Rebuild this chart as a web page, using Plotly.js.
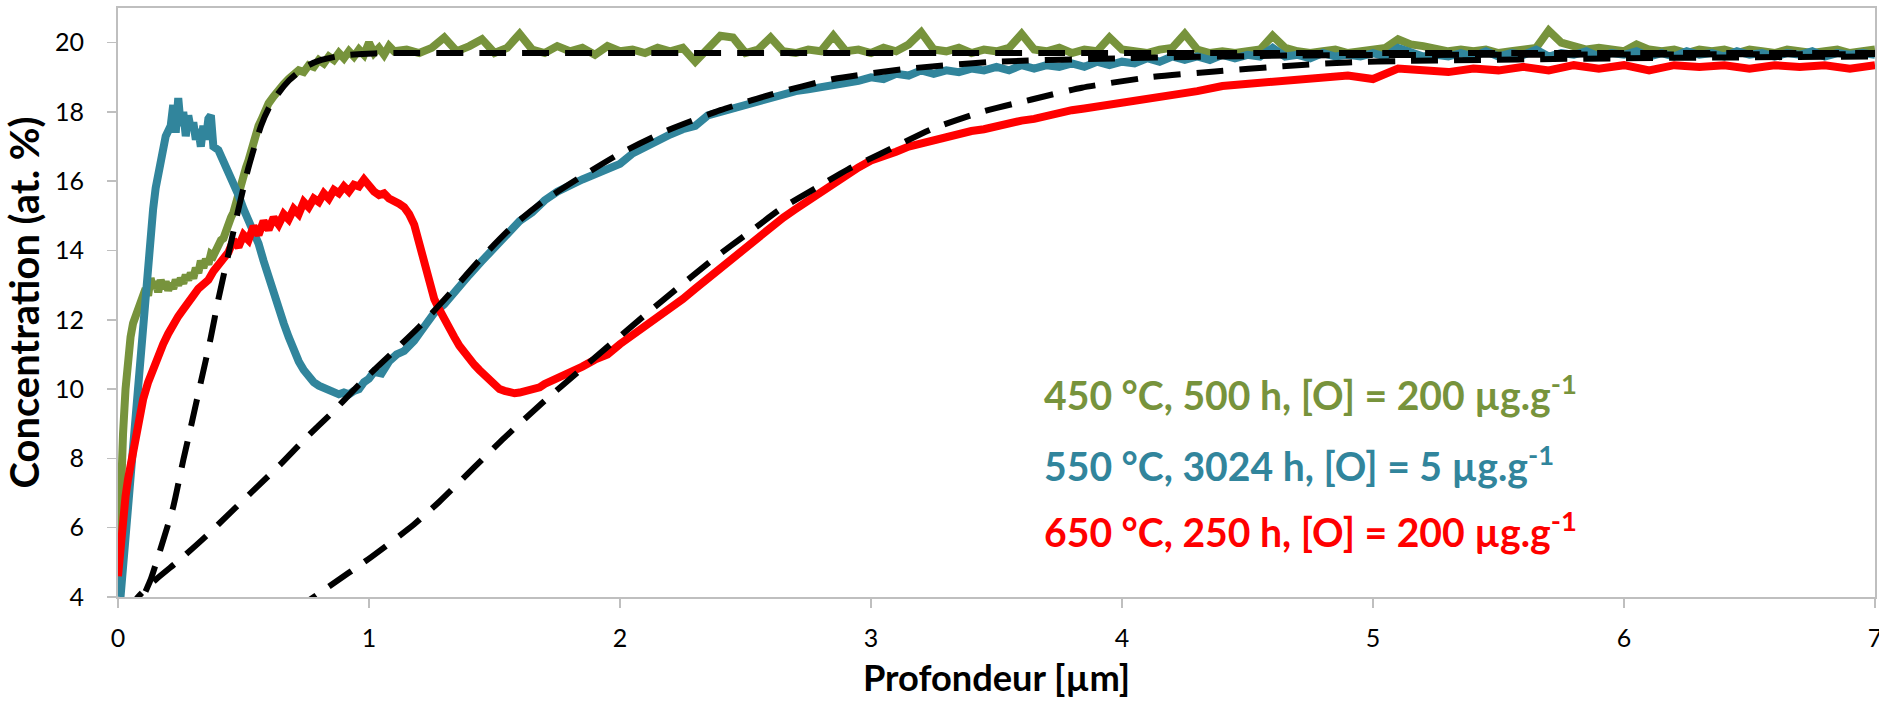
<!DOCTYPE html>
<html>
<head>
<meta charset="utf-8">
<script src="https://cdn.plot.ly/plotly-3.0.1.min.js"></script>
<style>
  html, body { margin: 0; padding: 0; background: #fff; }
  #chart { width: 1879px; height: 705px; }
</style>
</head>
<body>
<div id="chart"></div>
<script>
// ---------- Data ----------
// 450 °C, 500 h, [O] = 200 µg.g-1  (measured profile)
const greenX = [0,0.005,0.01,0.02,0.03,0.04,0.05,0.06,0.07,0.08,0.09,0.10,0.11,0.12,0.13,0.14,0.15,0.16,0.17,0.18,0.19,0.20,0.21,0.22,0.23,0.24,0.25,0.26,0.27,0.28,0.29,0.30,0.31,0.32,0.33,0.34,0.35,0.36,0.37,0.38,0.39,0.40,0.41,0.42,0.43,0.44,0.45,0.46,0.47,0.48,0.49,0.50,0.51,0.52,0.53,0.54,0.55,0.56,0.57,0.58,0.59,0.60,0.62,0.64,0.66,0.68,0.70,0.72,0.74,0.76,0.78,0.80,0.82,0.84,0.86,0.88,0.90,0.92,0.94,0.96,0.98,1.00,1.02,1.04,1.06,1.08,1.10,1.15,1.20,1.25,1.30,1.35,1.40,1.45,1.50,1.55,1.60,1.65,1.70,1.75,1.80,1.85,1.90,1.95,2.00,2.05,2.10,2.15,2.20,2.25,2.30,2.35,2.40,2.45,2.50,2.55,2.60,2.65,2.70,2.75,2.80,2.85,2.90,2.95,3.00,3.05,3.10,3.15,3.20,3.25,3.30,3.35,3.40,3.45,3.50,3.55,3.60,3.65,3.70,3.75,3.80,3.85,3.90,3.95,4.00,4.05,4.10,4.15,4.20,4.25,4.30,4.35,4.40,4.45,4.50,4.55,4.60,4.65,4.70,4.75,4.80,4.85,4.90,4.95,5.00,5.05,5.10,5.15,5.20,5.25,5.30,5.35,5.40,5.45,5.50,5.55,5.60,5.65,5.70,5.75,5.80,5.85,5.90,5.95,6.00,6.05,6.10,6.15,6.20,6.25,6.30,6.35,6.40,6.45,6.50,6.55,6.60,6.65,6.70,6.75,6.80,6.85,6.90,6.95,7.00];
const greenY = [4.4,6.0,7.2,8.7,10.0,11.0,11.5,11.9,12.1,12.3,12.5,12.6,12.9,12.7,13.2,12.9,13.1,12.8,13.15,12.9,13.1,12.85,13.05,12.9,13.15,13.0,13.2,13.05,13.3,13.15,13.35,13.2,13.5,13.35,13.7,13.5,13.75,13.6,13.9,13.85,14.05,14.1,14.3,14.35,14.6,14.7,14.95,15.1,15.4,15.6,15.9,16.1,16.4,16.6,16.9,17.1,17.35,17.6,17.75,17.95,18.1,18.25,18.45,18.65,18.8,18.95,19.05,19.2,19.15,19.35,19.3,19.5,19.4,19.6,19.5,19.7,19.55,19.75,19.6,19.8,19.65,20.0,19.7,19.85,19.65,19.9,19.75,19.8,19.7,19.85,20.15,19.75,19.9,20.1,19.7,19.85,20.25,19.8,19.7,19.9,19.75,19.85,19.65,19.9,19.75,19.8,19.7,19.85,19.75,19.85,19.45,19.8,20.2,20.15,19.7,19.8,20.15,19.75,19.7,19.8,19.75,20.2,19.75,19.8,19.7,19.85,19.75,19.95,20.3,19.8,19.75,19.85,19.7,19.8,19.75,19.85,20.25,19.8,19.75,19.85,19.7,19.8,19.75,20.15,19.8,19.75,19.7,19.8,19.85,20.25,19.8,19.7,19.75,19.7,19.75,19.8,20.2,19.85,19.75,19.7,19.75,19.8,19.7,19.75,19.8,19.85,20.1,19.95,19.9,19.8,19.75,19.8,19.75,19.8,19.7,19.75,19.8,19.85,20.35,20.0,19.9,19.8,19.85,19.8,19.75,19.95,19.8,19.75,19.8,19.7,19.8,19.75,19.8,19.7,19.8,19.75,19.7,19.8,19.75,19.7,19.75,19.8,19.7,19.75,19.8];

// 550 °C, 3024 h, [O] = 5 µg.g-1  (measured profile)
const blueX = [0.01,0.03,0.05,0.07,0.09,0.10,0.11,0.12,0.13,0.14,0.15,0.17,0.19,0.21,0.22,0.23,0.24,0.25,0.26,0.27,0.28,0.29,0.30,0.31,0.32,0.33,0.34,0.35,0.36,0.37,0.38,0.40,0.42,0.44,0.46,0.48,0.50,0.52,0.54,0.56,0.58,0.60,0.62,0.64,0.66,0.68,0.70,0.72,0.74,0.76,0.78,0.80,0.82,0.84,0.86,0.88,0.90,0.92,0.94,0.96,0.98,1.00,1.02,1.05,1.08,1.11,1.14,1.18,1.22,1.26,1.30,1.35,1.40,1.45,1.50,1.55,1.60,1.65,1.70,1.75,1.80,1.85,1.90,1.95,2.00,2.05,2.10,2.15,2.20,2.25,2.30,2.35,2.40,2.45,2.50,2.55,2.60,2.65,2.70,2.75,2.80,2.85,2.90,2.95,3.00,3.05,3.10,3.15,3.20,3.25,3.30,3.35,3.40,3.45,3.50,3.55,3.60,3.65,3.70,3.75,3.80,3.85,3.90,3.95,4.00,4.05,4.10,4.15,4.20,4.25,4.30,4.35,4.40,4.45,4.50,4.55,4.60,4.65,4.70,4.75,4.80,4.85,4.90,4.95,5.00,5.05,5.10,5.15,5.20,5.25,5.30,5.35,5.40,5.45,5.50,5.55,5.60,5.65,5.70,5.75,5.80,5.85,5.90,5.95,6.00,6.05,6.10,6.15,6.20,6.25,6.30,6.35,6.40,6.45,6.50,6.55,6.60,6.65,6.70,6.75,6.80,6.85,6.90,6.95,7.00];
const blueY = [4.0,5.8,7.6,9.4,10.9,11.6,12.6,13.5,14.5,15.2,15.8,16.6,17.3,17.6,18.2,17.4,18.4,17.6,18.0,17.3,17.9,17.5,17.7,17.2,17.5,17.0,17.6,17.2,17.8,17.9,17.0,16.9,16.6,16.3,16.0,15.6,15.2,14.9,14.5,14.2,13.7,13.2,12.8,12.3,11.9,11.5,11.1,10.8,10.55,10.35,10.2,10.1,10.05,9.95,9.9,9.85,9.9,9.85,9.95,10.0,10.2,10.3,10.5,10.45,10.8,11.0,11.1,11.4,11.8,12.2,12.45,12.9,13.3,13.7,14.1,14.5,14.85,15.1,15.45,15.7,15.9,16.05,16.2,16.35,16.5,16.8,17.0,17.2,17.35,17.5,17.6,17.9,18.0,18.1,18.2,18.3,18.45,18.55,18.6,18.65,18.7,18.8,18.85,18.9,19.0,18.95,19.1,19.05,19.2,19.1,19.2,19.15,19.25,19.2,19.3,19.2,19.35,19.25,19.35,19.3,19.4,19.3,19.45,19.35,19.45,19.4,19.55,19.45,19.6,19.5,19.6,19.5,19.65,19.55,19.65,19.6,19.85,19.6,19.65,19.55,19.7,19.6,19.65,19.6,19.7,19.6,19.85,19.7,19.6,19.65,19.6,19.7,19.6,19.75,19.6,19.7,19.65,19.8,19.6,19.7,19.65,19.75,19.6,19.7,19.65,19.75,19.6,19.7,19.6,19.75,19.65,19.7,19.6,19.75,19.65,19.7,19.6,19.7,19.65,19.75,19.6,19.7,19.65,19.7,19.65];

// 650 °C, 250 h, [O] = 200 µg.g-1  (measured profile)
const redX = [0,0.01,0.02,0.03,0.04,0.05,0.06,0.07,0.08,0.10,0.12,0.14,0.16,0.18,0.20,0.22,0.24,0.26,0.28,0.30,0.32,0.34,0.36,0.38,0.40,0.42,0.44,0.46,0.48,0.50,0.52,0.54,0.56,0.58,0.60,0.62,0.64,0.66,0.68,0.70,0.72,0.74,0.76,0.78,0.80,0.82,0.84,0.86,0.88,0.90,0.92,0.94,0.96,0.98,1.00,1.02,1.04,1.06,1.08,1.10,1.12,1.14,1.16,1.18,1.20,1.22,1.24,1.26,1.28,1.30,1.32,1.34,1.36,1.38,1.40,1.42,1.44,1.46,1.48,1.50,1.52,1.54,1.56,1.58,1.60,1.62,1.64,1.66,1.68,1.70,1.75,1.80,1.85,1.90,1.95,2.00,2.05,2.10,2.15,2.20,2.25,2.30,2.35,2.40,2.45,2.50,2.55,2.60,2.65,2.70,2.75,2.80,2.85,2.90,2.95,3.00,3.05,3.10,3.15,3.20,3.25,3.30,3.35,3.40,3.45,3.50,3.55,3.60,3.65,3.70,3.75,3.80,3.85,3.90,3.95,4.00,4.10,4.20,4.30,4.40,4.50,4.60,4.70,4.80,4.90,5.00,5.05,5.10,5.20,5.30,5.40,5.50,5.60,5.70,5.80,5.90,6.00,6.10,6.20,6.30,6.40,6.50,6.60,6.70,6.80,6.90,7.00];
const redY = [4.6,5.6,6.3,6.9,7.4,7.8,8.2,8.6,9.0,9.7,10.2,10.6,10.9,11.3,11.6,11.9,12.1,12.3,12.55,12.7,12.9,13.0,13.15,13.4,13.6,13.8,13.95,14.3,14.1,14.45,14.3,14.7,14.45,14.85,14.6,14.95,14.75,15.05,14.9,15.2,15.05,15.4,15.25,15.5,15.4,15.65,15.5,15.75,15.65,15.85,15.7,15.9,15.85,16.05,15.85,15.7,15.6,15.65,15.5,15.45,15.35,15.25,15.05,14.75,14.2,13.6,13.0,12.6,12.3,12.0,11.75,11.5,11.25,11.05,10.85,10.7,10.55,10.4,10.25,10.1,10.0,9.95,9.9,9.88,9.9,9.93,9.97,10.0,10.05,10.15,10.3,10.5,10.65,10.85,11.0,11.3,11.55,11.85,12.1,12.35,12.6,12.9,13.2,13.45,13.8,14.1,14.4,14.7,14.95,15.2,15.45,15.7,15.95,16.2,16.4,16.6,16.7,16.85,17.0,17.1,17.2,17.3,17.35,17.45,17.5,17.6,17.65,17.75,17.8,17.9,17.95,18.05,18.1,18.15,18.2,18.25,18.35,18.45,18.6,18.75,18.8,18.9,18.95,19.0,19.05,18.95,19.1,19.25,19.2,19.15,19.25,19.2,19.3,19.2,19.35,19.25,19.35,19.2,19.35,19.3,19.35,19.25,19.35,19.3,19.35,19.25,19.35];

// Fitted profiles (black dashed)
const fitGreenX = [0.05,0.10,0.13,0.17,0.22,0.26,0.29,0.33,0.37,0.40,0.44,0.48,0.52,0.57,0.60,0.64,0.68,0.72,0.76,0.81,0.87,0.94,1.02,1.10,1.50,7.00];
const fitGreenY = [3.0,4.0,4.5,5.4,6.6,7.95,8.9,10.2,11.5,12.6,13.9,15.2,16.4,17.6,18.1,18.55,18.9,19.15,19.35,19.5,19.6,19.66,19.69,19.7,19.7,19.7];
const fitBlueX = [0.03,0.08,0.15,0.25,0.35,0.45,0.55,0.65,0.75,0.85,0.97,1.10,1.20,1.315,1.45,1.58,1.70,1.85,2.00,2.20,2.40,2.60,2.85,3.15,3.50,4.00,4.70,5.50,7.00];
const fitBlueY = [3.5,4.0,4.5,5.1,5.75,6.45,7.15,7.85,8.6,9.3,10.2,11.1,11.8,12.7,13.8,14.75,15.45,16.15,16.8,17.5,18.05,18.5,18.95,19.25,19.45,19.55,19.63,19.65,19.67];
const fitRedX = [0.70,0.82,1.01,1.18,1.28,1.42,1.54,1.69,1.85,2.11,2.38,2.51,2.64,2.78,2.91,3.04,3.24,3.44,3.64,3.84,4.11,4.37,4.64,4.90,5.12,6.00,7.00];
const fitRedY = [3.6,4.2,5.16,6.1,6.75,7.75,8.6,9.6,10.6,12.2,13.8,14.5,15.2,15.8,16.35,16.8,17.5,18.0,18.36,18.7,19.0,19.17,19.32,19.43,19.47,19.55,19.6];

// Labels
const seriesMain = [
  '450 °C, 500 h, [O] = 200 µg.g',
  '550 °C, 3024 h, [O] = 5 µg.g',
  '650 °C, 250 h, [O] = 200 µg.g'
];
const seriesSup = '-1';
const seriesColors = ['#77933C', '#31859C', '#FF0000'];
const xTickVals = [0,1,2,3,4,5,6,7];
const yTickVals = [4,6,8,10,12,14,16,18,20];
const xTitle = 'Profondeur [µm]';
const yTitle = 'Concentration (at. %)';

// ---------- Text sizing (match the reference's text widths with the available font) ----------
const FONT = 'Lato, "Open Sans", "Noto Sans", sans-serif';
const cnv = document.createElement('canvas').getContext('2d');
function textW(str, px, weight) {
  cnv.font = weight + ' ' + px + 'px ' + FONT;
  return cnv.measureText(str).width;
}
function fitPx(str, target, weight, supStr) {
  const base = 100;
  let w = textW(str, base, weight);
  if (supStr) w += textW(supStr, base * 0.7, weight);
  return base * target / w;
}
const annPx = Math.min(44, Math.max(34, fitPx(seriesMain[0], 533, 'bold', seriesSup)));
const xTitlePx = Math.min(40, Math.max(30, fitPx(xTitle, 268, 'bold')));
const yTitlePx = Math.min(42, Math.max(30, fitPx(yTitle, 372, 'bold')));

// ---------- Chart ----------
const dataLine = (x, y, c) => ({x, y, type: 'scatter', mode: 'lines', line: {color: c, width: 8}, hoverinfo: 'skip'});
const fitLine = (x, y) => ({x, y, type: 'scatter', mode: 'lines', line: {color: '#000000', width: 6, dash: '27px,16px', shape: 'spline', smoothing: 0.6}, hoverinfo: 'skip'});

const traces = [
  dataLine(greenX, greenY, seriesColors[0]),
  dataLine(blueX, blueY, seriesColors[1]),
  dataLine(redX, redY, seriesColors[2]),
  fitLine(fitGreenX, fitGreenY),
  fitLine(fitBlueX, fitBlueY),
  fitLine(fitRedX, fitRedY)
];

const annY = [9.9, 7.85, 5.95];
const annotations = seriesMain.map((t, i) => ({
  text: t + '<sup>' + seriesSup + '</sup>', x: 3.68, y: annY[i], xref: 'x', yref: 'y',
  xanchor: 'left', yanchor: 'middle', showarrow: false,
  font: {family: FONT, size: annPx, color: seriesColors[i], weight: 700}
}));

const axisCommon = {
  showline: true, linecolor: '#BFBFBF', linewidth: 2, mirror: true,
  ticks: 'outside', ticklen: 9, tickwidth: 1.5, tickcolor: '#BFBFBF',
  showgrid: false, zeroline: false, automargin: false,
  ticklabeloverflow: 'allow',
  tickfont: {family: FONT, size: 25, color: '#000000'}
};

const layout = {
  width: 1879, height: 705,
  margin: {l: 118, r: 4, t: 8, b: 108},
  paper_bgcolor: '#ffffff', plot_bgcolor: '#ffffff',
  showlegend: false,
  xaxis: Object.assign({}, axisCommon, {
    range: [0, 7], tickvals: xTickVals, ticktext: xTickVals.map(String),
    ticklabelstandoff: 9,
    title: {text: xTitle, font: {family: FONT, size: xTitlePx, color: '#000000', weight: 700}, standoff: 15}
  }),
  yaxis: Object.assign({}, axisCommon, {
    range: [4, 21], tickvals: yTickVals, ticktext: yTickVals.map(String),
    ticklabelstandoff: 18,
    title: {text: yTitle, font: {family: FONT, size: yTitlePx, color: '#000000', weight: 700}, standoff: 8}
  }),
  annotations: annotations
};

Plotly.newPlot('chart', traces, layout, {displayModeBar: false, staticPlot: true});
</script>
</body>
</html>
